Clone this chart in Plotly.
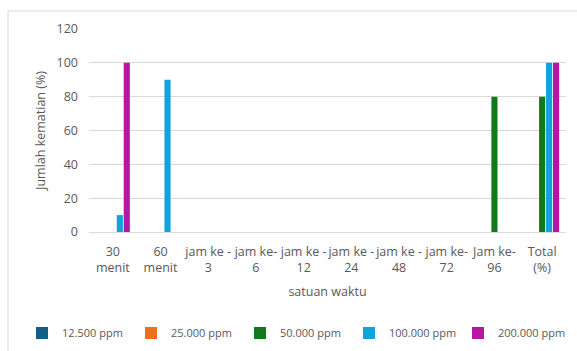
import plotly.graph_objects as go

categories = ["30<br>menit", "60<br>menit", "jam ke -<br>3", "jam ke-<br>6", "jam ke -<br>12",
              "jam ke -<br>24", "jam ke -<br>48", "jam ke-<br>72", "Jam ke-<br>96", "Total<br>(%)"]
series_names = ["12.500 ppm", "25.000 ppm", "50.000 ppm", "100.000 ppm", "200.000 ppm"]
s12500 = [0, 0, 0, 0, 0, 0, 0, 0, 0, 0]
s25000 = [0, 0, 0, 0, 0, 0, 0, 0, 0, 0]
s50000 = [0, 0, 0, 0, 0, 0, 0, 0, 80, 80]
s100000 = [10, 90, 0, 0, 0, 0, 0, 0, 0, 100]
s200000 = [100, 0, 0, 0, 0, 0, 0, 0, 0, 100]
colors = ["#125E85", "#F26C22", "#137A1B", "#10A3DC", "#B517A4"]
y_ticks = [0, 20, 40, 60, 80, 100, 120]

W, H = 577, 351
L, R, T, B = 89, 11, 29, 119
pw, ph = W - L - R, H - T - B

fig = go.Figure()
for name, vals, c in zip(series_names, [s12500, s25000, s50000, s100000, s200000], colors):
    fig.add_trace(go.Bar(x=categories, y=vals, name=name, marker=dict(color=c, line=dict(width=0))))

font = "Open Sans, Roboto, sans-serif"
fig.update_layout(
    width=W, height=H,
    margin=dict(l=L, r=R, t=T, b=B, autoexpand=False),
    paper_bgcolor="white", plot_bgcolor="white",
    barmode="group", bargap=0.27, bargroupgap=0.12,
    font=dict(family=font, size=12, color="#595959"),
    xaxis=dict(showgrid=False, showline=True, linecolor="#D9D9D9", linewidth=1,
               ticks="", ticklabelstandoff=8, tickangle=0, tickfont=dict(size=12.5, color="#595959"),
               automargin=False,
               title=dict(text="satuan waktu", font=dict(size=12.5, color="#595959"), standoff=11)),
    yaxis=dict(range=[0, 120], tickvals=y_ticks, showgrid=True, gridcolor="#D9D9D9",
               zeroline=False, showline=False, ticks="", ticklabelstandoff=10,
               automargin=False,
               tickfont=dict(size=12.5, color="#595959"),
               title=dict(text="Jumlah kematian (%)", font=dict(size=12.5, color="#595959"), standoff=8)),
    legend=dict(orientation="h", x=(22 - L) / pw, xanchor="left", y=(232 - 333) / ph, yanchor="middle",
                font=dict(size=11, color="#595959"), itemwidth=30, traceorder="normal",
                entrywidth=64, entrywidthmode="pixels",
                tracegroupgap=0, bgcolor="rgba(0,0,0,0)"),
    showlegend=True,
)
fig.add_shape(type="rect", xref="paper", yref="paper",
              x0=(8 - L) / pw, x1=(585 - L) / pw, y0=(232 - 360) / ph, y1=(232 - 11) / ph,
              line=dict(color="#D9D9D9", width=1), fillcolor="rgba(0,0,0,0)", layer="below")
fig.write_html("out.html")
